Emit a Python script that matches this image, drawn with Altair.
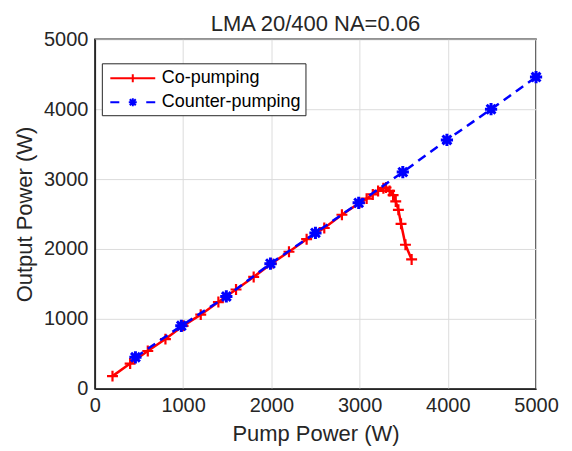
import altair as alt
import pandas as pd

# ---- data ----
series_names = ["Co-pumping", "Counter-pumping"]

co_pump = [200, 400, 600, 800, 1000, 1200, 1400, 1600, 1800, 2000, 2200, 2400, 2600, 2800,
           3000, 3080, 3150, 3210, 3270, 3300, 3340, 3380, 3410, 3440, 3470, 3520, 3590]
co_out = [180, 360, 540, 710, 900, 1060, 1240, 1420, 1600, 1790, 1960, 2140, 2300, 2490,
          2660, 2720, 2780, 2830, 2870, 2880, 2830, 2770, 2680, 2560, 2360, 2060, 1850]

counter_pump = [460, 980, 1490, 1990, 2500, 2990, 3490, 3990, 4490, 5000]
counter_out = [450, 900, 1320, 1790, 2230, 2660, 3100, 3560, 4000, 4460]

axis_ticks = [0, 1000, 2000, 3000, 4000, 5000]

co_df = pd.DataFrame({"pump": co_pump, "out": co_out, "series": series_names[0]})
ct_df = pd.DataFrame({"pump": counter_pump, "out": counter_out, "series": series_names[1]})
all_df = pd.concat([co_df, ct_df], ignore_index=True)

RED = "#ff0000"
BLUE = "#0000ff"
FONT = "Liberation Sans"
INK = "#262626"

PLUS = "M-1,0H1M0,-1V1"
STAR = "M-1,0H1M0,-1V1M-0.72,-0.72L0.72,0.72M-0.72,0.72L0.72,-0.72"
# legend symbols: a 45px wide line sample drawn with a 20px nominal symbol size
LEG_CO = "M-2.25,0H2.25M0,-0.4V0.4"
LEG_CT = ("M-2.25,0H-1.35M1.35,0H2.25M-0.4,0H0.4M0,-0.4V0.4"
          "M-0.3,-0.3L0.3,0.3M-0.3,0.3L0.3,-0.3")

xs = alt.Scale(domain=[0, 5000], nice=False)
ys = alt.Scale(domain=[0, 5000], nice=False)

x_enc = alt.X("pump:Q", scale=xs,
              axis=alt.Axis(title="Pump Power (W)", values=axis_ticks, format="d"))
y_enc = alt.Y("out:Q", scale=ys,
              axis=alt.Axis(title="Output Power (W)", values=axis_ticks, format="d"))

co_line = alt.Chart(co_df).mark_line(color=RED, strokeWidth=2.5).encode(x=x_enc, y=y_enc)
co_pts = alt.Chart(co_df).mark_point(shape=PLUS, filled=False, color=RED, size=120,
                                     strokeWidth=2.2, opacity=1).encode(x=x_enc, y=y_enc)
ct_line = alt.Chart(ct_df).mark_line(color=BLUE, strokeWidth=2.5,
                                     strokeDash=[9, 6]).encode(x=x_enc, y=y_enc)
ct_pts = alt.Chart(ct_df).mark_point(shape=STAR, filled=False, color=BLUE, size=150,
                                     strokeWidth=3, opacity=1).encode(x=x_enc, y=y_enc)

leg = alt.Legend(title=None, orient="none", legendX=7, legendY=24,
                 symbolSize=400, symbolStrokeWidth=2, symbolOffset=16,
                 labelFontSize=18, labelFont=FONT, labelColor="black",
                 labelOffset=18, rowPadding=4,
                 strokeColor=INK, fillColor="white", padding=4,
                 symbolFillColor="transparent")

legend_layer = alt.Chart(all_df).transform_filter("false").mark_point(
    filled=False, strokeWidth=2, opacity=1
).encode(
    x=x_enc, y=y_enc,
    color=alt.Color("series:N",
                    scale=alt.Scale(domain=series_names, range=[RED, BLUE]),
                    legend=leg),
    shape=alt.Shape("series:N",
                    scale=alt.Scale(domain=series_names, range=[LEG_CO, LEG_CT]),
                    legend=leg),
)

chart = alt.layer(co_line, co_pts, ct_line, ct_pts, legend_layer).properties(
    width=442, height=350, background="white",
    title=alt.Title("LMA 20/400 NA=0.06", fontSize=22, font=FONT, fontWeight="normal",
                    color=INK, offset=-7),
).configure_view(
    stroke=INK, strokeWidth=1.5
).configure_axis(
    grid=True, gridColor="#dcdcdc", gridWidth=1,
    domainColor=INK, domainWidth=1.5,
    ticks=False, labelFlush=False,
    labelFont=FONT, labelFontSize=20, labelColor=INK,
    titleFont=FONT, titleFontSize=22, titleFontWeight="normal", titleColor=INK,
).configure_axisX(
    labelPadding=7, titlePadding=8
).configure_axisY(
    labelPadding=7, titlePadding=7
)

chart.save("out.html", embed_options={"renderer": "svg", "actions": False})
